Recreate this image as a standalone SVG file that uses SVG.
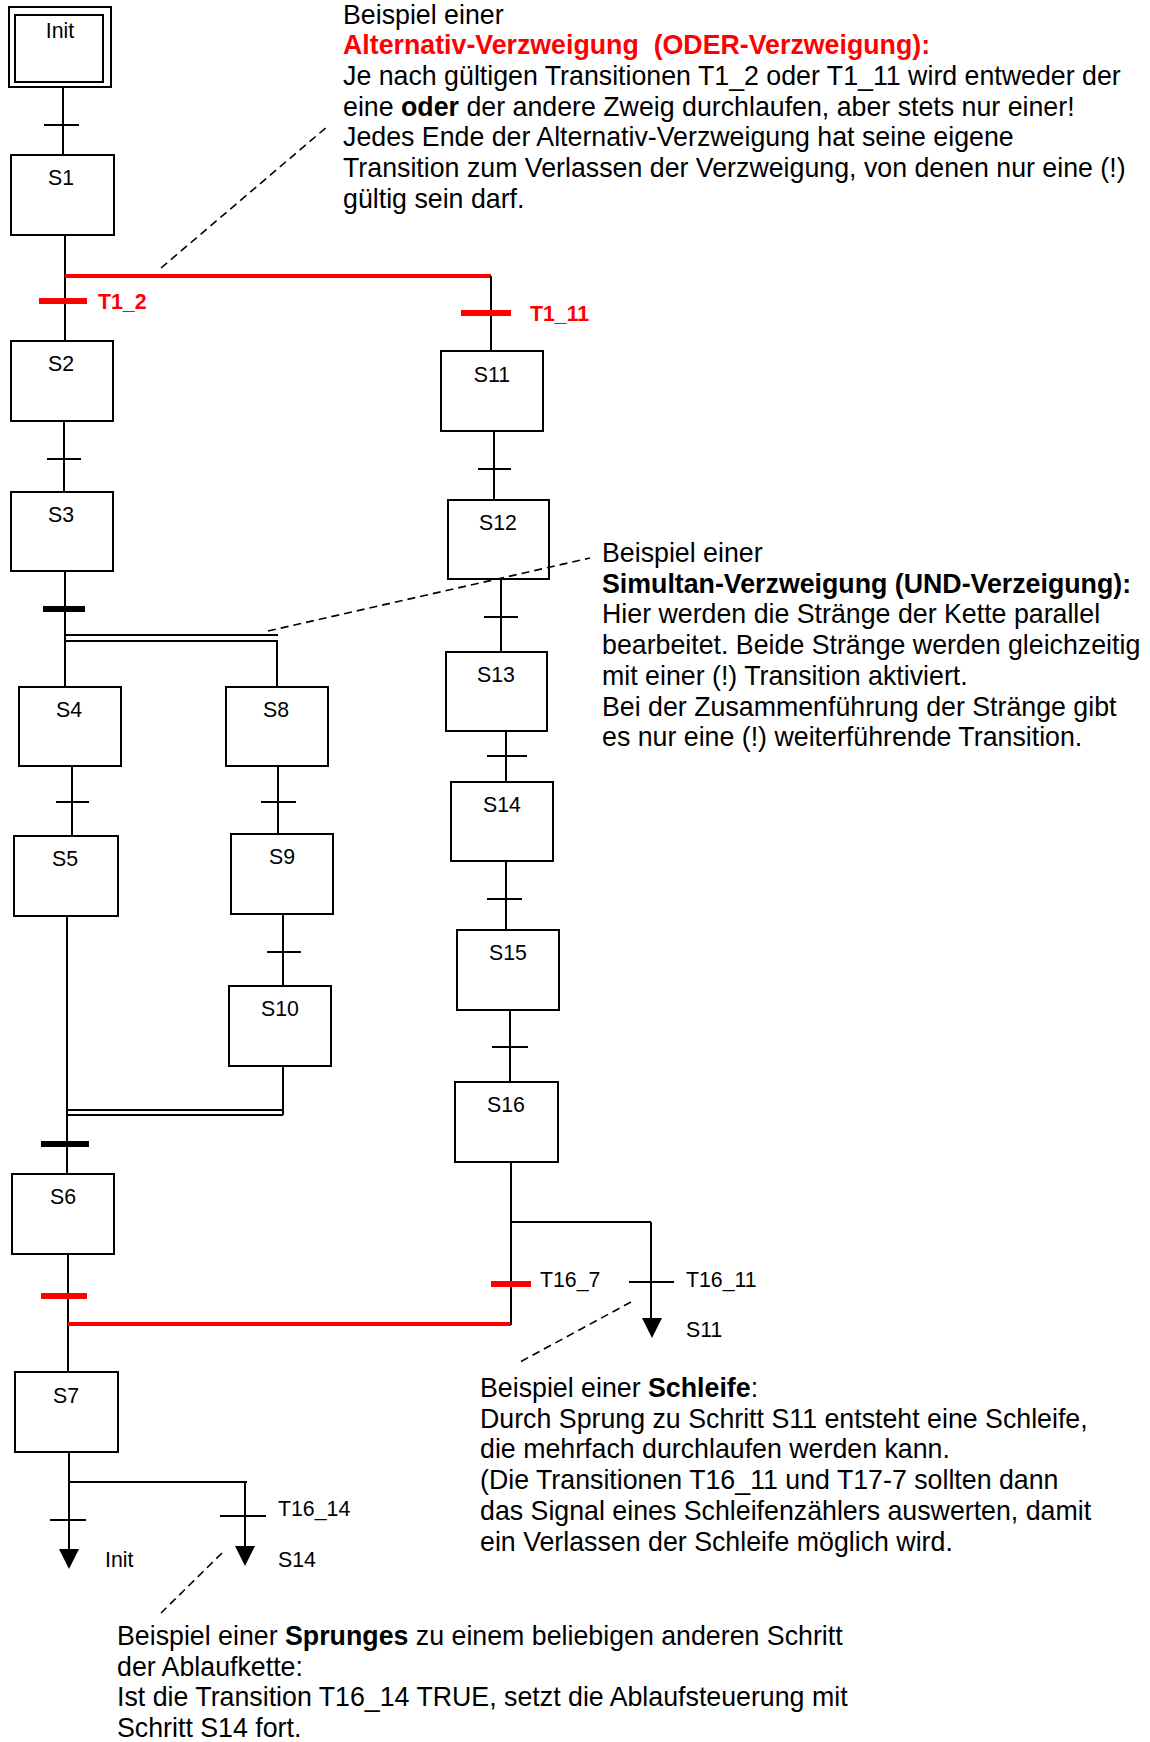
<svg xmlns="http://www.w3.org/2000/svg" width="1150" height="1742" viewBox="0 0 1150 1742">
<style>
.box{fill:#fff;stroke:#000;stroke-width:2}
.ln{stroke:#000;stroke-width:2;fill:none}
.red{stroke:#ff0000;stroke-width:4;fill:none}
.rt{stroke:#ff0000;stroke-width:6;fill:none}
.bt{stroke:#000;stroke-width:6;fill:none}
.dash{stroke:#000;stroke-width:1.6;stroke-dasharray:8,5;fill:none}
.arr{fill:#000;stroke:none}
.lbl{font-family:"Liberation Sans",Arial,sans-serif;font-size:21.3px;fill:#000}
.slbl{font-family:"Liberation Sans",Arial,sans-serif;font-size:21.3px;fill:#000;text-anchor:middle}
.rlbl{font-family:"Liberation Sans",Arial,sans-serif;font-size:21.3px;font-weight:bold;fill:#ff0000}
.desc{font-family:"Liberation Sans",Arial,sans-serif;font-size:26.75px;fill:#000}
.b{font-weight:bold}
.r{fill:#ff0000;font-weight:bold}
</style>
<rect width="1150" height="1742" fill="#fff"/>

<g id="connectors">
  <!-- Init -> S1 -->
  <line class="ln" x1="63" y1="87" x2="63" y2="155"/>
  <line class="ln" x1="44" y1="125" x2="79" y2="125"/>
  <!-- S1 -> alternative branch -->
  <line class="ln" x1="65" y1="235" x2="65" y2="341"/>
  <line class="red" x1="65" y1="276" x2="491" y2="276"/>
  <line class="rt" x1="39" y1="301" x2="87" y2="301"/>
  <line class="ln" x1="491" y1="276" x2="491" y2="351"/>
  <line class="rt" x1="461" y1="313" x2="511" y2="313"/>
  <!-- S2 -> S3 -->
  <line class="ln" x1="64" y1="421" x2="64" y2="492"/>
  <line class="ln" x1="47" y1="459" x2="81" y2="459"/>
  <!-- S3 -> simultaneous branch -->
  <line class="ln" x1="65" y1="571" x2="65" y2="687"/>
  <line class="bt" x1="43" y1="609" x2="85" y2="609"/>
  <line class="ln" x1="65" y1="635" x2="278" y2="635"/>
  <line class="ln" x1="65" y1="641" x2="278" y2="641"/>
  <line class="ln" x1="277" y1="641" x2="277" y2="687"/>
  <!-- S4 -> S5 -->
  <line class="ln" x1="72" y1="766" x2="72" y2="836"/>
  <line class="ln" x1="56" y1="802" x2="89" y2="802"/>
  <!-- S8 -> S9 -->
  <line class="ln" x1="278" y1="766" x2="278" y2="834"/>
  <line class="ln" x1="261" y1="802" x2="296" y2="802"/>
  <!-- S9 -> S10 -->
  <line class="ln" x1="283" y1="914" x2="283" y2="986"/>
  <line class="ln" x1="267" y1="952" x2="301" y2="952"/>
  <!-- S5 / S10 -> join -> S6 -->
  <line class="ln" x1="67" y1="916" x2="67" y2="1174"/>
  <line class="ln" x1="283" y1="1066" x2="283" y2="1115"/>
  <line class="ln" x1="67" y1="1110" x2="283" y2="1110"/>
  <line class="ln" x1="67" y1="1115" x2="283" y2="1115"/>
  <line class="bt" x1="41" y1="1144" x2="89" y2="1144"/>
  <!-- S6 -> S7 with alternative join -->
  <line class="ln" x1="68" y1="1254" x2="68" y2="1372"/>
  <line class="rt" x1="41" y1="1296" x2="87" y2="1296"/>
  <line class="red" x1="68" y1="1324" x2="511" y2="1324"/>
  <!-- right branch S11..S16 -->
  <line class="ln" x1="494" y1="431" x2="494" y2="500"/>
  <line class="ln" x1="478" y1="469" x2="511" y2="469"/>
  <line class="ln" x1="501" y1="579" x2="501" y2="652"/>
  <line class="ln" x1="484" y1="617" x2="518" y2="617"/>
  <line class="ln" x1="506" y1="731" x2="506" y2="782"/>
  <line class="ln" x1="487" y1="756" x2="527" y2="756"/>
  <line class="ln" x1="506" y1="861" x2="506" y2="930"/>
  <line class="ln" x1="487" y1="899" x2="522" y2="899"/>
  <line class="ln" x1="510" y1="1010" x2="510" y2="1082"/>
  <line class="ln" x1="492" y1="1047" x2="528" y2="1047"/>
  <!-- S16 -> T16_7 / T16_11 -->
  <line class="ln" x1="511" y1="1162" x2="511" y2="1325"/>
  <line class="ln" x1="511" y1="1222" x2="651" y2="1222"/>
  <line class="ln" x1="651" y1="1222" x2="651" y2="1320"/>
  <line class="ln" x1="629" y1="1282" x2="674" y2="1282"/>
  <polygon class="arr" points="642,1318 662,1318 652,1338"/>
  <line class="rt" x1="491" y1="1284" x2="531" y2="1284"/>
  <!-- S7 -> jumps -->
  <line class="ln" x1="69" y1="1452" x2="69" y2="1551"/>
  <line class="ln" x1="50" y1="1520" x2="86" y2="1520"/>
  <polygon class="arr" points="59,1549 79,1549 69,1569"/>
  <line class="ln" x1="69" y1="1482" x2="247" y2="1482"/>
  <line class="ln" x1="245" y1="1482" x2="245" y2="1548"/>
  <line class="ln" x1="220" y1="1516" x2="266" y2="1516"/>
  <polygon class="arr" points="235,1546 255,1546 245,1566"/>
</g>

<g id="Init">
  <rect class="box" x="9" y="7" width="102" height="80"/>
  <rect class="box" x="15" y="15" width="88" height="67"/>
  <text class="slbl" x="60" y="38">Init</text>
</g>
<g id="S1"><rect class="box" x="11" y="155" width="103" height="80"/><text class="slbl" x="61" y="185">S1</text></g>
<g id="S2"><rect class="box" x="11" y="341" width="102" height="80"/><text class="slbl" x="61" y="371">S2</text></g>
<g id="S3"><rect class="box" x="11" y="492" width="102" height="79"/><text class="slbl" x="61" y="522">S3</text></g>
<g id="S4"><rect class="box" x="19" y="687" width="102" height="79"/><text class="slbl" x="69" y="717">S4</text></g>
<g id="S8"><rect class="box" x="226" y="687" width="102" height="79"/><text class="slbl" x="276" y="717">S8</text></g>
<g id="S5"><rect class="box" x="14" y="836" width="104" height="80"/><text class="slbl" x="65" y="866">S5</text></g>
<g id="S9"><rect class="box" x="231" y="834" width="102" height="80"/><text class="slbl" x="282" y="864">S9</text></g>
<g id="S10"><rect class="box" x="229" y="986" width="102" height="80"/><text class="slbl" x="280" y="1016">S10</text></g>
<g id="S6"><rect class="box" x="12" y="1174" width="102" height="80"/><text class="slbl" x="63" y="1204">S6</text></g>
<g id="S7"><rect class="box" x="15" y="1372" width="103" height="80"/><text class="slbl" x="66" y="1403">S7</text></g>
<g id="S11"><rect class="box" x="441" y="351" width="102" height="80"/><text class="slbl" x="492" y="382">S11</text></g>
<g id="S12"><rect class="box" x="448" y="500" width="101" height="79"/><text class="slbl" x="498" y="530">S12</text></g>
<g id="S13"><rect class="box" x="446" y="652" width="101" height="79"/><text class="slbl" x="496" y="682">S13</text></g>
<g id="S14"><rect class="box" x="451" y="782" width="102" height="79"/><text class="slbl" x="502" y="812">S14</text></g>
<g id="S15"><rect class="box" x="457" y="930" width="102" height="80"/><text class="slbl" x="508" y="960">S15</text></g>
<g id="S16"><rect class="box" x="455" y="1082" width="103" height="80"/><text class="slbl" x="506" y="1112">S16</text></g>

<g id="callout-lines">
  <line class="dash" x1="161" y1="268" x2="328" y2="126"/>
  <line class="dash" x1="268" y1="631" x2="590" y2="558"/>
  <line class="dash" x1="631" y1="1302" x2="520" y2="1362"/>
  <line class="dash" x1="222" y1="1553" x2="161" y2="1613"/>
</g>

<g id="transition-labels">
  <text class="rlbl" x="98" y="309">T1_2</text>
  <text class="rlbl" x="530" y="321">T1_11</text>
  <text class="lbl" x="540" y="1287">T16_7</text>
  <text class="lbl" x="686" y="1287">T16_11</text>
  <text class="lbl" x="686" y="1337">S11</text>
  <text class="lbl" x="278" y="1516">T16_14</text>
  <text class="lbl" x="278" y="1567">S14</text>
  <text class="lbl" x="105" y="1567">Init</text>
</g>

<g id="note-oder" class="desc">
  <text x="343" y="23.5">Beispiel einer</text>
  <text x="343" y="54.2" class="r" xml:space="preserve">Alternativ-Verzweigung  (ODER-Verzweigung):</text>
  <text x="343" y="84.9">Je nach gültigen Transitionen T1_2 oder T1_11 wird entweder der</text>
  <text x="343" y="115.6">eine <tspan class="b">oder</tspan> der andere Zweig durchlaufen, aber stets nur einer!</text>
  <text x="343" y="146.3">Jedes Ende der Alternativ-Verzweigung hat seine eigene</text>
  <text x="343" y="177">Transition zum Verlassen der Verzweigung, von denen nur eine (!)</text>
  <text x="343" y="207.7">gültig sein darf.</text>
</g>
<g id="note-und" class="desc">
  <text x="602" y="562">Beispiel einer</text>
  <text x="602" y="592.7" class="b">Simultan-Verzweigung (UND-Verzeigung):</text>
  <text x="602" y="623.4">Hier werden die Stränge der Kette parallel</text>
  <text x="602" y="654.1">bearbeitet. Beide Stränge werden gleichzeitig</text>
  <text x="602" y="684.8">mit einer (!) Transition aktiviert.</text>
  <text x="602" y="715.5">Bei der Zusammenführung der Stränge gibt</text>
  <text x="602" y="746.2">es nur eine (!) weiterführende Transition.</text>
</g>
<g id="note-schleife" class="desc">
  <text x="480" y="1397">Beispiel einer <tspan class="b">Schleife</tspan>:</text>
  <text x="480" y="1427.7">Durch Sprung zu Schritt S11 entsteht eine Schleife,</text>
  <text x="480" y="1458.4">die mehrfach durchlaufen werden kann.</text>
  <text x="480" y="1489.1">(Die Transitionen T16_11 und T17-7 sollten dann</text>
  <text x="480" y="1519.8">das Signal eines Schleifenzählers auswerten, damit</text>
  <text x="480" y="1550.5">ein Verlassen der Schleife möglich wird.</text>
</g>
<g id="note-sprung" class="desc">
  <text x="117" y="1645">Beispiel einer <tspan class="b">Sprunges</tspan> zu einem beliebigen anderen Schritt</text>
  <text x="117" y="1675.7">der Ablaufkette:</text>
  <text x="117" y="1706.4">Ist die Transition T16_14 TRUE, setzt die Ablaufsteuerung mit</text>
  <text x="117" y="1737.1">Schritt S14 fort.</text>
</g>
</svg>
